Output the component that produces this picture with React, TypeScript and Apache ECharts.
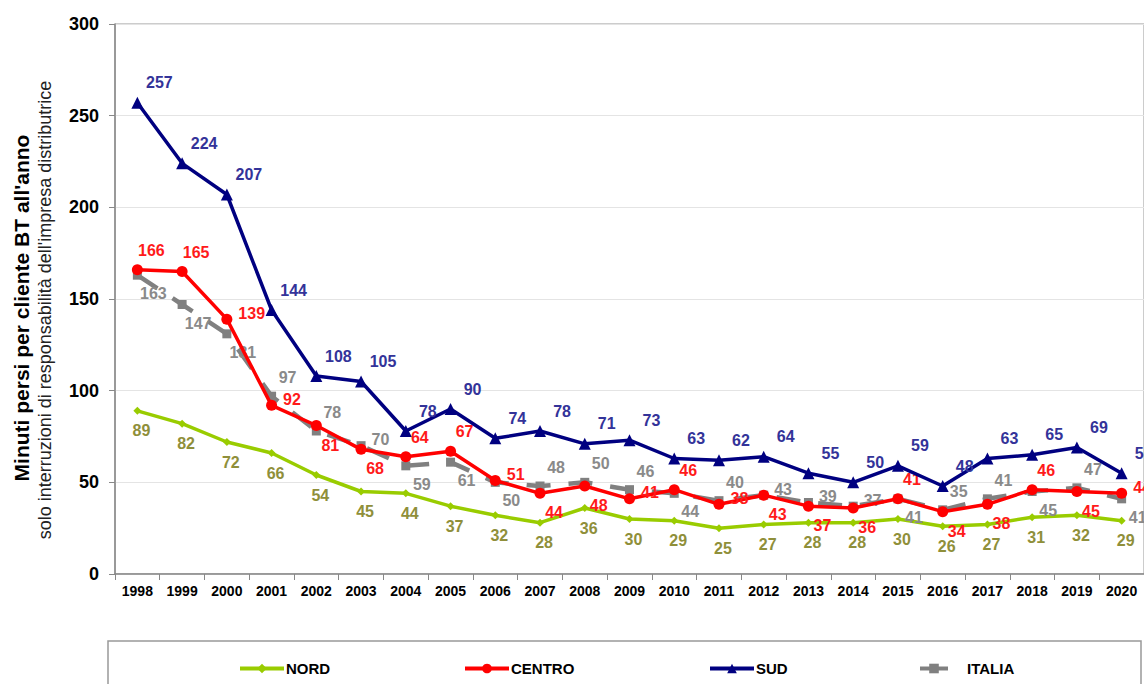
import React, { useEffect, useRef } from "react";
import * as echarts from "echarts";

const years = ["1998","1999","2000","2001","2002","2003","2004","2005","2006","2007","2008","2009","2010","2011","2012","2013","2014","2015","2016","2017","2018","2019","2020"];
const nord = [89, 82, 72, 66, 54, 45, 44, 37, 32, 28, 36, 30, 29, 25, 27, 28, 28, 30, 26, 27, 31, 32, 29];
const centro = [166, 165, 139, 92, 81, 68, 64, 67, 51, 44, 48, 41, 46, 38, 43, 37, 36, 41, 34, 38, 46, 45, 44];
const sud = [257, 224, 207, 144, 108, 105, 78, 90, 74, 78, 71, 73, 63, 62, 64, 55, 50, 59, 48, 63, 65, 69, 55];
const italia = [163, 147, 131, 97, 78, 70, 59, 61, 50, 48, 50, 46, 44, 40, 43, 39, 37, 41, 35, 41, 45, 47, 41];

// label sides (style only): T = above, B = below, R = right
const centroSides = ["T","T","R","R","B","B","T","T","R","B","B","R","T","R","B","B","B","T","B","B","T","B","R"];
const italiaSides = ["B","B","B","T","T","R","B","B","B","T","T","T","B","T","R","R","R","B","T","T","B","T","B"];

const FONT = "Arial, 'Liberation Sans', sans-serif";
const sideMap: Record<string, string> = { T: "top", B: "bottom", R: "right" };

function withSides(values: number[], sides: string[], dx: number) {
  return values.map((v, i) => ({
    value: v,
    label: {
      position: sideMap[sides[i]],
      offset: sides[i] === "R" ? [0, -6] : [dx, 0],
    },
  }));
}

export default function App() {
  const ref = useRef<HTMLDivElement>(null);
  useEffect(() => {
    if (!ref.current) return;
    const chart = echarts.init(ref.current, undefined, { renderer: "svg" });
    const labelBase = { show: true, fontFamily: FONT, fontWeight: "bold", fontSize: 16 };
    const legendText = { color: "#000", fontWeight: "bold", fontSize: 15, fontFamily: FONT };
    const legendCommon = { top: 656, itemHeight: 12, lineStyle: { width: 4 } };
    chart.setOption({
      animation: false,
      textStyle: { fontFamily: FONT },
      grid: { left: 115, right: -11, top: 24, bottom: 110, show: true, borderColor: "#999", borderWidth: 1 },
      xAxis: {
        type: "category",
        data: years,
        boundaryGap: true,
        axisLine: { lineStyle: { color: "#888", width: 1.5 } },
        axisTick: { show: true, length: 6, lineStyle: { color: "#888" } },
        axisLabel: { color: "#000", fontWeight: "bold", fontSize: 14, margin: 10, fontFamily: FONT },
      },
      yAxis: {
        type: "value",
        min: 0,
        max: 300,
        interval: 50,
        axisLine: { show: true, lineStyle: { color: "#888", width: 1.5 } },
        axisTick: { show: true, length: 6, lineStyle: { color: "#888" } },
        axisLabel: { color: "#000", fontWeight: "bold", fontSize: 18, margin: 16, fontFamily: FONT },
        splitLine: { lineStyle: { color: "#e4e4e4" } },
      },
      legend: [
        { ...legendCommon, data: ["NORD"], left: 233, itemWidth: 44, textStyle: { ...legendText, padding: [0, 0, 0, -3] } },
        { ...legendCommon, data: ["CENTRO"], left: 458, itemWidth: 44, textStyle: { ...legendText, padding: [0, 0, 0, -3] } },
        { ...legendCommon, data: ["SUD"], left: 703, itemWidth: 44, textStyle: { ...legendText, padding: [0, 0, 0, -3] } },
        {
          ...legendCommon,
          data: ["ITALIA"],
          left: 913,
          itemWidth: 28,
          lineStyle: { type: "solid", width: 4 },
          textStyle: { ...legendText, padding: [0, 0, 0, 14] },
        },
      ],
      graphic: [
        {
          type: "rect",
          shape: { x: 108, y: 641, width: 1033, height: 70 },
          style: { fill: "none", stroke: "#999", lineWidth: 1.5 },
          silent: true,
        },
        {
          type: "text",
          x: 21,
          y: 308,
          rotation: Math.PI / 2,
          style: {
            text: "Minuti persi per cliente BT all'anno",
            fontFamily: FONT,
            fontWeight: "bold",
            fontSize: 21,
            fill: "#000",
            textAlign: "center",
            textVerticalAlign: "middle",
          },
        },
        {
          type: "text",
          x: 45,
          y: 310,
          rotation: Math.PI / 2,
          style: {
            text: "solo interruzioni di responsabilità dell'impresa distributrice",
            fontFamily: FONT,
            fontSize: 18,
            fill: "#222",
            textAlign: "center",
            textVerticalAlign: "middle",
          },
        },
      ],
      series: [
        {
          name: "NORD",
          type: "line",
          data: nord,
          z: 2,
          symbol: "diamond",
          symbolSize: 8,
          lineStyle: { color: "#99cc00", width: 3.5 },
          itemStyle: { color: "#99cc00" },
          label: { ...labelBase, position: "bottom", distance: 8, offset: [4, 0], color: "#8f8f3a" },
        },
        {
          name: "ITALIA",
          type: "line",
          data: withSides(italia, italiaSides, 16),
          z: 3,
          symbol: "rect",
          symbolSize: 9,
          lineStyle: { color: "#808080", width: 4.5, type: [24, 18] },
          itemStyle: { color: "#808080" },
          label: { ...labelBase, distance: 6, color: "#8a8a8a" },
        },
        {
          name: "CENTRO",
          type: "line",
          data: withSides(centro, centroSides, 14),
          z: 4,
          symbol: "circle",
          symbolSize: 11,
          lineStyle: { color: "#ff0000", width: 3.5 },
          itemStyle: { color: "#ff0000" },
          label: { ...labelBase, distance: 6, color: "#ff1a1a" },
        },
        {
          name: "SUD",
          type: "line",
          data: sud,
          z: 5,
          symbol: "triangle",
          symbolSize: 12,
          lineStyle: { color: "#000080", width: 3.5 },
          itemStyle: { color: "#000080" },
          label: { ...labelBase, position: "top", distance: 6, offset: [22, 0], color: "#333399" },
        },
      ],
    });
    return () => chart.dispose();
  }, []);
  return (
    <div
      ref={ref}
      style={{ position: "fixed", left: 0, top: 0, width: 1144, height: 684, background: "#fff" }}
    />
  );
}
